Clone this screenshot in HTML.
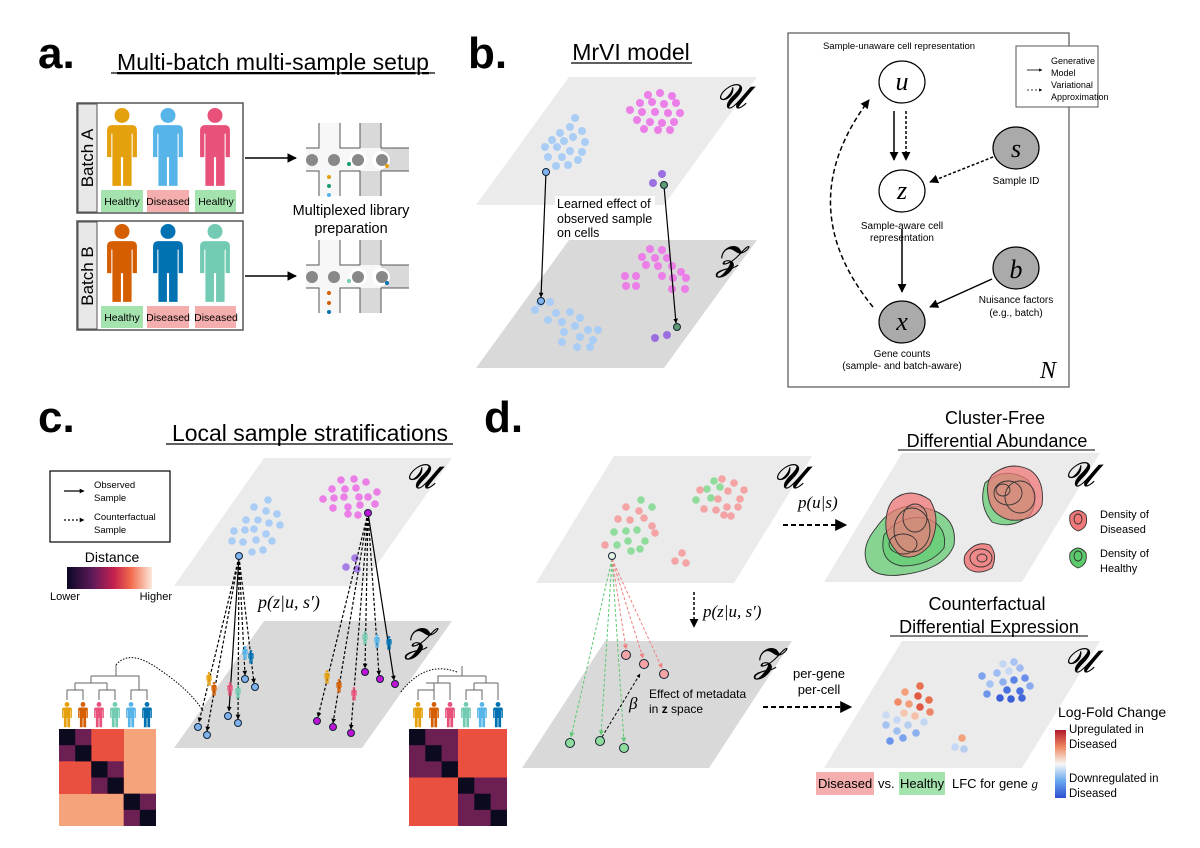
<!DOCTYPE html>
<html><head><meta charset="utf-8"><style>
html,body{margin:0;padding:0;background:#fff;}
svg{display:block;font-family:"Liberation Sans",sans-serif;}
.serif{font-family:"Liberation Serif",serif;font-style:italic;}
</style></head><body>
<svg width="1200" height="848" viewBox="0 0 1200 848" xmlns="http://www.w3.org/2000/svg">
<defs>
<marker id="ah" viewBox="0 0 10 10" refX="9" refY="5" markerWidth="6" markerHeight="6" orient="auto-start-reverse"><path d="M0,0 L10,5 L0,10 z" fill="#000"/></marker>
<marker id="ahs" viewBox="0 0 10 10" refX="9" refY="5" markerWidth="4" markerHeight="4" orient="auto"><path d="M0,0 L10,5 L0,10 z" fill="#000"/></marker>
<marker id="ahg" viewBox="0 0 10 10" refX="9" refY="5" markerWidth="5" markerHeight="5" orient="auto"><path d="M0,0 L10,5 L0,10 z" fill="#5cc870"/></marker>
<marker id="ahr" viewBox="0 0 10 10" refX="9" refY="5" markerWidth="5" markerHeight="5" orient="auto"><path d="M0,0 L10,5 L0,10 z" fill="#f08080"/></marker>
<symbol id="p" viewBox="0 0 30 75"><circle cx="15" cy="7" r="7"/><path d="M6 16 h18 q5 0 5 5 v25 h-4 v-22 h-1 v49 h-8 v-27 h-2 v27 h-8 v-49 h-1 v22 h-4 v-25 q0-5 5-5 z"/></symbol>
<linearGradient id="dist" x1="0" x2="1"><stop offset="0" stop-color="#0b0724"/><stop offset="0.3" stop-color="#5e1a5a"/><stop offset="0.55" stop-color="#c4204f"/><stop offset="0.75" stop-color="#f26a4b"/><stop offset="1" stop-color="#fbe9dc"/></linearGradient>
<linearGradient id="lfc" x1="0" y1="0" x2="0" y2="1"><stop offset="0" stop-color="#b2182b"/><stop offset="0.25" stop-color="#ef8a62"/><stop offset="0.5" stop-color="#f7f7f7"/><stop offset="0.75" stop-color="#67a9f0"/><stop offset="1" stop-color="#2f4fd0"/></linearGradient>
</defs>

<!-- ============ PANEL A ============ -->
<text x="38" y="68" font-size="44" font-weight="bold">a.</text>
<text x="273" y="70" font-size="23" text-anchor="middle" text-decoration="underline">Multi-batch multi-sample setup</text>
<line x1="111" y1="73" x2="435" y2="73" stroke="#000" stroke-width="1.2"/>
<g stroke="#555" stroke-width="1.5" fill="#fff">
<rect x="77" y="103" width="166" height="110"/><rect x="77" y="221" width="166" height="109"/></g>
<rect x="78" y="104" width="19" height="108" fill="#e8e8e8" stroke="#555"/>
<rect x="78" y="222" width="19" height="107" fill="#e8e8e8" stroke="#555"/>
<text transform="translate(93,158) rotate(-90)" font-size="17" text-anchor="middle">Batch A</text>
<text transform="translate(93,276) rotate(-90)" font-size="17" text-anchor="middle">Batch B</text>
<use href="#p" x="104" y="108" width="36" height="80" style="fill:#e5a00d"/>
<use href="#p" x="150" y="108" width="36" height="80" style="fill:#56b4e9"/>
<use href="#p" x="197" y="108" width="36" height="80" style="fill:#e8517a"/>
<use href="#p" x="104" y="224" width="36" height="80" style="fill:#d55e00"/>
<use href="#p" x="150" y="224" width="36" height="80" style="fill:#0072b2"/>
<use href="#p" x="197" y="224" width="36" height="80" style="fill:#72cbb2"/>
<g font-size="10.5" text-anchor="middle">
<rect x="101" y="190" width="42" height="22" fill="#a4e3ae"/><text x="122" y="205">Healthy</text>
<rect x="147" y="190" width="42" height="22" fill="#f5aeae"/><text x="168" y="205">Diseased</text>
<rect x="195" y="190" width="41" height="22" fill="#a4e3ae"/><text x="216" y="205">Healthy</text>
<rect x="101" y="306" width="42" height="22" fill="#a4e3ae"/><text x="122" y="321">Healthy</text>
<rect x="147" y="306" width="42" height="22" fill="#f5aeae"/><text x="168" y="321">Diseased</text>
<rect x="195" y="306" width="41" height="22" fill="#f5aeae"/><text x="216" y="321">Diseased</text>
</g>
<line x1="245" y1="158" x2="296" y2="158" stroke="#000" stroke-width="1.6" marker-end="url(#ah)"/>
<line x1="245" y1="276" x2="296" y2="276" stroke="#000" stroke-width="1.6" marker-end="url(#ah)"/>
<!-- microfluidics -->
<g id="mf">
<rect x="319" y="123" width="21" height="73" fill="#f7f7f7"/>
<rect x="360" y="123" width="21" height="73" fill="#d9d9d9"/>
<rect x="306" y="148" width="103" height="23" fill="#f7f7f7"/>
<rect x="381" y="148" width="28" height="23" fill="#d9d9d9"/>
<circle cx="381" cy="160" r="9" fill="#fff"/><circle cx="358" cy="160" r="9" fill="#fff"/>
<g stroke="#555" stroke-width="1" fill="none">
<path d="M319 123 V148 H306 M340 123 V148 H360 V123 M381 123 V148 H409 M306 171 H319 V196 M340 196 V171 H360 V196 M381 196 V171 H409"/></g>
<g fill="#888"><circle cx="312" cy="160" r="6"/><circle cx="334" cy="160" r="6"/><circle cx="358" cy="160" r="6"/><circle cx="382" cy="160" r="6"/></g>
</g>
<circle cx="349" cy="164" r="2" fill="#1a9a70"/><circle cx="387" cy="166" r="2" fill="#e5a00d"/>
<circle cx="329" cy="177" r="2" fill="#e5a00d"/><circle cx="329" cy="186" r="2" fill="#1a9a70"/><circle cx="329" cy="195" r="2" fill="#56b4e9"/>
<use href="#mf" y="117"/>
<circle cx="349" cy="281" r="2" fill="#72cbb2"/><circle cx="387" cy="283" r="2" fill="#0072b2"/>
<circle cx="329" cy="293" r="2" fill="#d55e00"/><circle cx="329" cy="303" r="2" fill="#d55e00"/><circle cx="329" cy="312" r="2" fill="#0072b2"/>
<text x="351" y="215" font-size="14.5" text-anchor="middle">Multiplexed library</text>
<text x="351" y="233" font-size="14.5" text-anchor="middle">preparation</text>

<!-- ============ PANEL B ============ -->
<text x="468" y="68" font-size="44" font-weight="bold">b.</text>
<text x="631" y="60" font-size="23" text-anchor="middle">MrVI model</text>
<line x1="571" y1="63" x2="692" y2="63" stroke="#000" stroke-width="1.2"/>
<polygon points="569,77 757,77 664,205 476,205" fill="#ebebeb"/>
<polygon points="569,240 757,240 664,368 476,368" fill="#d9d9d9"/>
<text x="716" y="108" font-size="34" class="serif">𝓤</text>
<text x="716" y="270" font-size="34" class="serif">𝓩</text>
<g fill="#a9cdf5">
<circle cx="575" cy="118" r="4"/><circle cx="570" cy="127" r="4"/><circle cx="582" cy="131" r="4"/><circle cx="560" cy="133" r="4"/><circle cx="573" cy="137" r="4"/><circle cx="552" cy="140" r="4"/><circle cx="564" cy="141" r="4"/><circle cx="585" cy="142" r="4"/><circle cx="545" cy="147" r="4"/><circle cx="557" cy="147" r="4"/><circle cx="570" cy="151" r="4"/><circle cx="582" cy="152" r="4"/><circle cx="548" cy="157" r="4"/><circle cx="562" cy="157" r="4"/><circle cx="578" cy="160" r="4"/><circle cx="556" cy="166" r="4"/><circle cx="568" cy="165" r="4"/>
<circle cx="540" cy="303" r="4"/><circle cx="550" cy="302" r="4"/><circle cx="556" cy="313" r="4"/><circle cx="570" cy="312" r="4"/><circle cx="580" cy="318" r="4"/><circle cx="548" cy="320" r="4"/><circle cx="562" cy="322" r="4"/><circle cx="575" cy="326" r="4"/><circle cx="588" cy="330" r="4"/><circle cx="598" cy="330" r="4"/><circle cx="564" cy="332" r="4"/><circle cx="580" cy="337" r="4"/><circle cx="593" cy="340" r="4"/><circle cx="562" cy="342" r="4"/><circle cx="577" cy="347" r="4"/><circle cx="590" cy="347" r="4"/><circle cx="535" cy="310" r="4"/>
</g>
<g fill="#ec7ee8">
<circle cx="648" cy="95" r="4"/><circle cx="660" cy="93" r="4"/><circle cx="672" cy="96" r="4"/><circle cx="640" cy="103" r="4"/><circle cx="652" cy="102" r="4"/><circle cx="664" cy="104" r="4"/><circle cx="676" cy="103" r="4"/><circle cx="630" cy="110" r="4"/><circle cx="642" cy="112" r="4"/><circle cx="655" cy="112" r="4"/><circle cx="668" cy="113" r="4"/><circle cx="680" cy="113" r="4"/><circle cx="637" cy="120" r="4"/><circle cx="650" cy="122" r="4"/><circle cx="662" cy="123" r="4"/><circle cx="674" cy="122" r="4"/><circle cx="644" cy="129" r="4"/><circle cx="658" cy="130" r="4"/><circle cx="670" cy="130" r="4"/>
<circle cx="650" cy="249" r="4"/><circle cx="662" cy="250" r="4"/><circle cx="642" cy="257" r="4"/><circle cx="655" cy="258" r="4"/><circle cx="667" cy="258" r="4"/><circle cx="646" cy="265" r="4"/><circle cx="658" cy="266" r="4"/><circle cx="672" cy="266" r="4"/><circle cx="681" cy="272" r="4"/><circle cx="625" cy="276" r="4"/><circle cx="636" cy="276" r="4"/><circle cx="662" cy="276" r="4"/><circle cx="673" cy="278" r="4"/><circle cx="686" cy="278" r="4"/><circle cx="626" cy="286" r="4"/><circle cx="636" cy="286" r="4"/><circle cx="672" cy="289" r="4"/><circle cx="685" cy="289" r="4"/>
</g>
<g fill="#9b6fe0"><circle cx="662" cy="174" r="4"/><circle cx="653" cy="183" r="4"/><circle cx="655" cy="338" r="4"/><circle cx="667" cy="335" r="4"/></g>
<rect x="555" y="196" width="100" height="44" fill="#fff"/>
<g font-size="12.5"><text x="557" y="208">Learned effect of</text><text x="557" y="223">observed sample</text><text x="557" y="237">on cells</text></g>
<line x1="546" y1="172" x2="541" y2="297" stroke="#000" stroke-width="1.2" marker-end="url(#ahs)"/>
<line x1="664" y1="186" x2="676" y2="323" stroke="#000" stroke-width="1.2" marker-end="url(#ahs)"/>
<circle cx="546" cy="172" r="3.5" fill="#7fb3ee" stroke="#123" stroke-width="1"/>
<circle cx="541" cy="301" r="3.5" fill="#7fb3ee" stroke="#123" stroke-width="1"/>
<circle cx="664" cy="185" r="3.5" fill="#5f9a74" stroke="#123" stroke-width="1"/>
<circle cx="677" cy="327" r="3.5" fill="#5f9a74" stroke="#123" stroke-width="1"/>
<!-- graphical model -->
<rect x="788" y="33" width="281" height="354" fill="#fff" stroke="#555" stroke-width="1.2"/>
<text x="899" y="49" font-size="9.5" text-anchor="middle">Sample-unaware cell representation</text>
<rect x="1016" y="46" width="82" height="61" fill="#fff" stroke="#555"/>
<line x1="1027" y1="70" x2="1042" y2="70" stroke="#000" stroke-width="0.8" marker-end="url(#ahs)"/>
<line x1="1027" y1="90" x2="1042" y2="90" stroke="#000" stroke-width="0.8" stroke-dasharray="2,2" marker-end="url(#ahs)"/>
<g font-size="9"><text x="1051" y="64">Generative</text><text x="1051" y="76">Model</text><text x="1051" y="88">Variational</text><text x="1051" y="100">Approximation</text></g>
<g stroke="#000" stroke-width="1.2">
<ellipse cx="902" cy="82" rx="23" ry="21" fill="#fff"/>
<ellipse cx="902" cy="191" rx="23" ry="21" fill="#fff"/>
<ellipse cx="902" cy="322" rx="23" ry="21" fill="#aaa"/>
<ellipse cx="1016" cy="148" rx="23" ry="21" fill="#aaa"/>
<ellipse cx="1016" cy="268" rx="23" ry="21" fill="#aaa"/>
</g>
<g font-size="26" class="serif" text-anchor="middle"><text x="902" y="90">u</text><text x="902" y="199">z</text><text x="902" y="330">x</text><text x="1016" y="157">s</text><text x="1016" y="278">b</text></g>
<g font-size="10" text-anchor="middle"><text x="1016" y="184">Sample ID</text><text x="902" y="229">Sample-aware cell</text><text x="902" y="241">representation</text><text x="1016" y="303">Nuisance factors</text><text x="1016" y="316">(e.g., batch)</text><text x="902" y="357">Gene counts</text><text x="902" y="369">(sample- and batch-aware)</text></g>
<text x="1040" y="378" font-size="24" class="serif">N</text>
<g stroke="#000" stroke-width="1.5" fill="none">
<line x1="894" y1="111" x2="894" y2="160" marker-end="url(#ah)"/>
<line x1="906" y1="111" x2="906" y2="160" stroke-dasharray="3,2" marker-end="url(#ah)"/>
<line x1="902" y1="229" x2="902" y2="292" marker-end="url(#ah)"/>
<line x1="993" y1="157" x2="930" y2="182" stroke-dasharray="3,2" marker-end="url(#ah)"/>
<line x1="992" y1="279" x2="930" y2="307" marker-end="url(#ah)"/>
<path d="M873 307 Q790 205 869 100" stroke-dasharray="5,3" marker-end="url(#ah)"/>
</g>

<!-- ============ PANEL C ============ -->
<text x="38" y="432" font-size="44" font-weight="bold">c.</text>
<text x="310" y="441" font-size="23" text-anchor="middle">Local sample stratifications</text>
<line x1="166" y1="444" x2="453" y2="444" stroke="#000" stroke-width="1.2"/>
<rect x="50" y="471" width="120" height="71" fill="#fff" stroke="#000" stroke-width="1.2"/>
<line x1="64" y1="491" x2="84" y2="491" stroke="#000" stroke-width="1.2" marker-end="url(#ahs)"/>
<line x1="64" y1="520" x2="84" y2="520" stroke="#000" stroke-width="1.2" stroke-dasharray="2,2" marker-end="url(#ahs)"/>
<g font-size="9.5"><text x="94" y="488">Observed</text><text x="94" y="501">Sample</text><text x="94" y="520">Counterfactual</text><text x="94" y="533">Sample</text></g>
<text x="112" y="562" font-size="14" text-anchor="middle">Distance</text>
<rect x="67" y="567" width="85" height="22" fill="url(#dist)"/>
<text x="50" y="600" font-size="11">Lower</text><text x="172" y="600" font-size="11" text-anchor="end">Higher</text>
<polygon points="264,458 452,458 362,586 174,586" fill="#ebebeb"/>
<polygon points="264,621 452,621 362,748 174,748" fill="#d9d9d9"/>
<text x="405" y="488" font-size="34" class="serif">𝓤</text>
<text x="405" y="652" font-size="34" class="serif">𝓩</text>
<g fill="#a9cdf5">
<circle cx="268" cy="500" r="3.8"/><circle cx="254" cy="507" r="3.8"/><circle cx="266" cy="511" r="3.8"/><circle cx="277" cy="514" r="3.8"/><circle cx="246" cy="520" r="3.8"/><circle cx="258" cy="520" r="3.8"/><circle cx="269" cy="523" r="3.8"/><circle cx="280" cy="525" r="3.8"/><circle cx="234" cy="531" r="3.8"/><circle cx="245" cy="530" r="3.8"/><circle cx="254" cy="529" r="3.8"/><circle cx="266" cy="534" r="3.8"/><circle cx="232" cy="541" r="3.8"/><circle cx="243" cy="542" r="3.8"/><circle cx="256" cy="540" r="3.8"/><circle cx="272" cy="541" r="3.8"/><circle cx="252" cy="552" r="3.8"/><circle cx="263" cy="550" r="3.8"/>
</g>
<g fill="#ec7ee8">
<circle cx="341" cy="480" r="3.8"/><circle cx="354" cy="479" r="3.8"/><circle cx="366" cy="482" r="3.8"/><circle cx="332" cy="489" r="3.8"/><circle cx="345" cy="489" r="3.8"/><circle cx="356" cy="488" r="3.8"/><circle cx="377" cy="492" r="3.8"/><circle cx="323" cy="499" r="3.8"/><circle cx="334" cy="498" r="3.8"/><circle cx="344" cy="497" r="3.8"/><circle cx="359" cy="497" r="3.8"/><circle cx="368" cy="497" r="3.8"/><circle cx="333" cy="508" r="3.8"/><circle cx="348" cy="507" r="3.8"/><circle cx="360" cy="505" r="3.8"/><circle cx="375" cy="504" r="3.8"/><circle cx="348" cy="514" r="3.8"/><circle cx="358" cy="515" r="3.8"/>
</g>
<g fill="#a77de8"><circle cx="355" cy="558" r="3.8"/><circle cx="346" cy="567" r="3.8"/><circle cx="357" cy="569" r="3.8"/></g>
<text x="258" y="608" font-size="18" class="serif">p(z|u, s′)</text>
<g stroke="#000" stroke-width="1.2" fill="none" stroke-dasharray="3,2">
<line x1="239" y1="557" x2="199" y2="722" marker-end="url(#ahs)"/>
<line x1="239" y1="557" x2="207" y2="731" marker-end="url(#ahs)"/>
<line x1="239" y1="557" x2="238" y2="719" marker-end="url(#ahs)"/>
<line x1="239" y1="557" x2="245" y2="675" marker-end="url(#ahs)"/>
<line x1="239" y1="557" x2="254" y2="683" marker-end="url(#ahs)"/>
<line x1="239" y1="557" x2="229" y2="711" stroke-dasharray="none" marker-end="url(#ahs)"/>
<line x1="368" y1="513" x2="318" y2="717" marker-end="url(#ahs)"/>
<line x1="368" y1="513" x2="333" y2="723" marker-end="url(#ahs)"/>
<line x1="368" y1="513" x2="351" y2="729" marker-end="url(#ahs)"/>
<line x1="368" y1="513" x2="365" y2="668" marker-end="url(#ahs)"/>
<line x1="368" y1="513" x2="379" y2="675" marker-end="url(#ahs)"/>
<line x1="368" y1="513" x2="394" y2="680" stroke-dasharray="none" marker-end="url(#ahs)"/>
</g>
<g stroke="#123" stroke-width="1" fill="#7fb3ee">
<circle cx="239" cy="556" r="3.5"/><circle cx="198" cy="727" r="3.5"/><circle cx="207" cy="735" r="3.5"/><circle cx="228" cy="716" r="3.5"/><circle cx="238" cy="723" r="3.5"/><circle cx="245" cy="679" r="3.5"/><circle cx="255" cy="687" r="3.5"/></g>
<g stroke="#123" stroke-width="1" fill="#c013d8">
<circle cx="368" cy="513" r="3.5"/><circle cx="317" cy="721" r="3.5"/><circle cx="333" cy="727" r="3.5"/><circle cx="351" cy="733" r="3.5"/><circle cx="365" cy="672" r="3.5"/><circle cx="380" cy="679" r="3.5"/><circle cx="395" cy="684" r="3.5"/></g>
<use href="#p" x="206" y="672" width="6" height="14" style="fill:#e5a00d"/>
<use href="#p" x="211" y="682" width="6" height="14" style="fill:#d55e00"/>
<use href="#p" x="227" y="682" width="6" height="14" style="fill:#e8517a"/>
<use href="#p" x="235" y="685" width="6" height="14" style="fill:#72cbb2"/>
<use href="#p" x="242" y="646" width="6" height="14" style="fill:#56b4e9"/>
<use href="#p" x="248" y="650" width="6" height="14" style="fill:#0072b2"/>
<use href="#p" x="324" y="670" width="6" height="14" style="fill:#e5a00d"/>
<use href="#p" x="336" y="679" width="6" height="14" style="fill:#d55e00"/>
<use href="#p" x="351" y="687" width="6" height="14" style="fill:#e8517a"/>
<use href="#p" x="362" y="631" width="6" height="14" style="fill:#72cbb2"/>
<use href="#p" x="374" y="634" width="6" height="14" style="fill:#56b4e9"/>
<use href="#p" x="386" y="636" width="6" height="14" style="fill:#0072b2"/>
<!-- left dendrogram + heatmap -->
<g stroke="#666" stroke-width="1" fill="none">
<path d="M67 700 V690 H83 V700 M75 690 V683 M99 700 V690 H115 V700 M107 690 V683 M131 700 V690 H147 V700 M139 690 V680 M75 683 H107 M91 683 V676 M91 676 H139 V680 M116 676 V665"/>
<path d="M418 700 V690 H434 V700 M434 690 V683 M426 683 H450 V700 M466 700 V690 H482 V700 M474 690 V683 M498 700 V683 M474 683 H498 M486 683 V676 M438 683 V676 H486 M462 676 V666"/>
</g>
<path d="M116 665 Q130 648 160 670 Q190 690 203 711" stroke="#000" stroke-width="1" fill="none" stroke-dasharray="1.5,1.5"/>
<path d="M457 672 Q425 660 400 693" stroke="#000" stroke-width="1" fill="none" stroke-dasharray="1.5,1.5"/>
<use href="#p" x="61" y="702" width="12" height="26" style="fill:#e5a00d"/>
<use href="#p" x="77" y="702" width="12" height="26" style="fill:#d55e00"/>
<use href="#p" x="93" y="702" width="12" height="26" style="fill:#e8517a"/>
<use href="#p" x="109" y="702" width="12" height="26" style="fill:#72cbb2"/>
<use href="#p" x="125" y="702" width="12" height="26" style="fill:#56b4e9"/>
<use href="#p" x="141" y="702" width="12" height="26" style="fill:#0072b2"/>
<use href="#p" x="412" y="702" width="12" height="26" style="fill:#e5a00d"/>
<use href="#p" x="428" y="702" width="12" height="26" style="fill:#d55e00"/>
<use href="#p" x="444" y="702" width="12" height="26" style="fill:#e8517a"/>
<use href="#p" x="460" y="702" width="12" height="26" style="fill:#72cbb2"/>
<use href="#p" x="476" y="702" width="12" height="26" style="fill:#56b4e9"/>
<use href="#p" x="492" y="702" width="12" height="26" style="fill:#0072b2"/>
<rect x="59" y="729" width="97" height="97" fill="#f5a37a"/>
<rect x="59" y="729" width="65" height="65" fill="#ea5040"/>
<g fill="#6b1f52"><rect x="59" y="729" width="32.3" height="32.3"/><rect x="91.3" y="761.3" width="32.3" height="32.3"/><rect x="123.7" y="793.7" width="32.3" height="32.3"/></g>
<g fill="#0b0a1e"><rect x="59" y="729" width="16.2" height="16.2"/><rect x="75.2" y="745.2" width="16.2" height="16.2"/><rect x="91.3" y="761.3" width="16.2" height="16.2"/><rect x="107.5" y="777.5" width="16.2" height="16.2"/><rect x="123.7" y="793.7" width="16.2" height="16.2"/><rect x="139.8" y="809.8" width="16.2" height="16.2"/></g>
<rect x="409" y="729" width="98" height="97" fill="#ea5040"/>
<g fill="#6b1f52"><rect x="409" y="729" width="49" height="48.5"/><rect x="458" y="777.5" width="49" height="48.5"/></g>
<g fill="#0b0a1e"><rect x="409" y="729" width="16.3" height="16.2"/><rect x="425.3" y="745.2" width="16.3" height="16.2"/><rect x="441.6" y="761.3" width="16.3" height="16.2"/><rect x="458" y="777.5" width="16.3" height="16.2"/><rect x="474.3" y="793.7" width="16.3" height="16.2"/><rect x="490.6" y="809.8" width="16.3" height="16.2"/></g>

<!-- ============ PANEL D ============ -->
<text x="484" y="432" font-size="44" font-weight="bold">d.</text>
<polygon points="614,456 812,456 734,583 536,583" fill="#ebebeb"/>
<polygon points="605,641 792,641 709,768 522,768" fill="#d9d9d9"/>
<text x="773" y="488" font-size="34" class="serif">𝓤</text>
<text x="754" y="672" font-size="34" class="serif">𝓩</text>
<g fill="#8fdc9c">
<circle cx="641" cy="500" r="3.8"/><circle cx="652" cy="507" r="3.8"/><circle cx="626" cy="531" r="3.8"/><circle cx="637" cy="530" r="3.8"/><circle cx="614" cy="532" r="3.8"/><circle cx="628" cy="541" r="3.8"/><circle cx="645" cy="541" r="3.8"/><circle cx="617" cy="545" r="3.8"/><circle cx="631" cy="551" r="3.8"/><circle cx="640" cy="549" r="3.8"/>
<circle cx="714" cy="481" r="3.8"/><circle cx="696" cy="500" r="3.8"/><circle cx="711" cy="498" r="3.8"/><circle cx="707" cy="489" r="3.8"/><circle cx="720" cy="487" r="3.8"/></g>
<g fill="#f4a4a4">
<circle cx="626" cy="507" r="3.8"/><circle cx="639" cy="511" r="3.8"/><circle cx="618" cy="519" r="3.8"/><circle cx="630" cy="520" r="3.8"/><circle cx="644" cy="518" r="3.8"/><circle cx="652" cy="526" r="3.8"/><circle cx="605" cy="545" r="3.8"/><circle cx="655" cy="533" r="3.8"/>
<circle cx="722" cy="479" r="3.8"/><circle cx="734" cy="483" r="3.8"/><circle cx="700" cy="490" r="3.8"/><circle cx="728" cy="491" r="3.8"/><circle cx="744" cy="490" r="3.8"/><circle cx="718" cy="499" r="3.8"/><circle cx="740" cy="499" r="3.8"/><circle cx="704" cy="509" r="3.8"/><circle cx="716" cy="510" r="3.8"/><circle cx="727" cy="507" r="3.8"/><circle cx="738" cy="507" r="3.8"/><circle cx="724" cy="515" r="3.8"/><circle cx="731" cy="516" r="3.8"/>
<circle cx="682" cy="553" r="3.8"/><circle cx="675" cy="561" r="3.8"/><circle cx="686" cy="563" r="3.8"/></g>
<g fill="none" stroke-width="1" stroke-dasharray="3,2">
<line x1="612" y1="559" x2="571" y2="737" stroke="#5cc870" marker-end="url(#ahg)"/>
<line x1="612" y1="559" x2="601" y2="735" stroke="#5cc870" marker-end="url(#ahg)"/>
<line x1="612" y1="559" x2="624" y2="742" stroke="#5cc870" marker-end="url(#ahg)"/>
<line x1="612" y1="559" x2="626" y2="649" stroke="#f08080" marker-end="url(#ahr)"/>
<line x1="612" y1="559" x2="643" y2="658" stroke="#f08080" marker-end="url(#ahr)"/>
<line x1="612" y1="559" x2="662" y2="668" stroke="#f08080" marker-end="url(#ahr)"/>
<line x1="602" y1="737" x2="640" y2="674" stroke="#000" marker-end="url(#ahs)"/>
</g>
<circle cx="612" cy="556" r="3.5" fill="#e4f2e4" stroke="#123"/>
<g stroke="#123" stroke-width="1" fill="#8fdc9c"><circle cx="570" cy="743" r="4.5"/><circle cx="600" cy="741" r="4.5"/><circle cx="624" cy="748" r="4.5"/></g>
<g stroke="#123" stroke-width="1" fill="#f4a4a4"><circle cx="626" cy="655" r="4.5"/><circle cx="644" cy="664" r="4.5"/><circle cx="664" cy="674" r="4.5"/></g>
<text x="629" y="709" font-size="17" class="serif">β</text>
<g font-size="12"><text x="649" y="698">Effect of metadata</text><text x="649" y="713">in <tspan font-weight="bold">z</tspan> space</text></g>
<line x1="694" y1="592" x2="694" y2="627" stroke="#000" stroke-width="1.5" stroke-dasharray="3,2" marker-end="url(#ah)"/>
<text x="703" y="617" font-size="17" class="serif">p(z|u, s′)</text>
<text x="798" y="508" font-size="17" class="serif">p(u|s)</text>
<line x1="783" y1="525" x2="846" y2="525" stroke="#000" stroke-width="2" stroke-dasharray="5,3" marker-end="url(#ah)"/>
<text x="819" y="678" font-size="13" text-anchor="middle">per-gene</text>
<text x="819" y="694" font-size="13" text-anchor="middle">per-cell</text>
<line x1="763" y1="707" x2="851" y2="707" stroke="#000" stroke-width="2" stroke-dasharray="5,3" marker-end="url(#ah)"/>
<!-- DA -->
<text x="995" y="424" font-size="18" text-anchor="middle">Cluster-Free</text>
<text x="997" y="447" font-size="18" text-anchor="middle">Differential Abundance</text>
<line x1="898" y1="450" x2="1095" y2="450" stroke="#000" stroke-width="1"/>
<polygon points="902,453 1100,453 1022,582 824,582" fill="#ebebeb"/>
<text x="1064" y="486" font-size="34" class="serif">𝓤</text>
<g stroke="#333" stroke-width="0.9">
<path d="M876 528 Q895 500 925 508 Q958 515 954 545 Q945 570 900 575 Q870 578 866 560 Q862 545 876 528z" fill="#5ccb6c" fill-opacity="0.7"/>
<path d="M884 535 Q900 515 925 518 Q948 525 944 548 Q930 566 902 566 Q878 562 884 535z" fill="#5ccb6c" fill-opacity="0.6"/>
<path d="M893 500 Q910 486 930 500 Q942 520 930 545 Q915 562 900 555 Q884 540 886 520 Q887 507 893 500z" fill="#f07878" fill-opacity="0.75"/>
<ellipse cx="912" cy="530" rx="18" ry="22" fill="none"/><ellipse cx="915" cy="518" rx="12" ry="14" fill="none"/><ellipse cx="903" cy="544" rx="14" ry="10" fill="none"/>
<path d="M985 483 Q1005 465 1028 480 Q1040 500 1030 515 Q1012 530 992 522 Q978 505 985 483z" fill="#5ccb6c" fill-opacity="0.7"/>
<path d="M992 475 Q1010 460 1030 470 Q1045 480 1042 505 Q1035 522 1010 520 Q990 515 988 495 Q986 482 992 475z" fill="#f07878" fill-opacity="0.75"/>
<ellipse cx="1008" cy="493" rx="14" ry="12" fill="none"/><ellipse cx="1020" cy="497" rx="15" ry="16" fill="none"/><ellipse cx="1003" cy="490" rx="7" ry="6" fill="none"/>
<path d="M965 555 Q975 540 990 545 Q998 555 992 568 Q980 575 970 570 Q962 565 965 555z" fill="#f07878" fill-opacity="0.85"/>
<ellipse cx="981" cy="558" rx="11" ry="9" fill="none"/><ellipse cx="982" cy="558" rx="5" ry="4" fill="none"/>
<path d="M1070 515 Q1078 506 1086 515 Q1089 528 1078 531 Q1068 527 1070 515z" fill="#f07878"/>
<ellipse cx="1078" cy="519" rx="4" ry="5" fill="none"/>
<path d="M1070 553 Q1078 543 1086 553 Q1088 565 1078 568 Q1068 564 1070 553z" fill="#5ccb6c"/>
<ellipse cx="1078" cy="556" rx="4" ry="5" fill="none"/>
</g>
<g font-size="11"><text x="1100" y="518">Density of</text><text x="1100" y="533">Diseased</text><text x="1100" y="557">Density of</text><text x="1100" y="572">Healthy</text></g>
<!-- CDE -->
<text x="987" y="610" font-size="18" text-anchor="middle">Counterfactual</text>
<text x="989" y="633" font-size="18" text-anchor="middle">Differential Expression</text>
<line x1="890" y1="636" x2="1088" y2="636" stroke="#000" stroke-width="1"/>
<polygon points="902,641 1100,641 1022,768 824,768" fill="#ebebeb"/>
<text x="1064" y="672" font-size="34" class="serif">𝓤</text>
<g>
<circle cx="920" cy="686" r="3.8" fill="#e8704e"/><circle cx="905" cy="692" r="3.8" fill="#f39f7a"/><circle cx="918" cy="696" r="3.8" fill="#e05a44"/><circle cx="929" cy="700" r="3.8" fill="#e8704e"/><circle cx="898" cy="702" r="3.8" fill="#f28a66"/><circle cx="909" cy="704" r="3.8" fill="#f39f7a"/><circle cx="920" cy="707" r="3.8" fill="#e05a44"/><circle cx="930" cy="712" r="3.8" fill="#ec8466"/><circle cx="904" cy="713" r="3.8" fill="#f6c8b0"/><circle cx="915" cy="716" r="3.8" fill="#f6c0a8"/><circle cx="886" cy="715" r="3.8" fill="#cbdaf4"/><circle cx="897" cy="720" r="3.8" fill="#c7d8f6"/><circle cx="886" cy="725" r="3.8" fill="#a6c4f2"/><circle cx="908" cy="725" r="3.8" fill="#b5cef2"/><circle cx="924" cy="722" r="3.8" fill="#c4d6f4"/><circle cx="897" cy="731" r="3.8" fill="#9ebff0"/><circle cx="916" cy="733" r="3.8" fill="#8bb0ee"/><circle cx="890" cy="741" r="3.8" fill="#6a95ec"/><circle cx="903" cy="738" r="3.8" fill="#7ba2ee"/>
<circle cx="1003" cy="664" r="3.8" fill="#c4d6f4"/><circle cx="1014" cy="662" r="3.8" fill="#a9c4f4"/><circle cx="997" cy="673" r="3.8" fill="#9ebdf4"/><circle cx="1009" cy="671" r="3.8" fill="#c7d8f6"/><circle cx="1020" cy="668" r="3.8" fill="#a0bcf0"/><circle cx="982" cy="676" r="3.8" fill="#7ea4ee"/><circle cx="990" cy="684" r="3.8" fill="#a6c4f2"/><circle cx="1003" cy="682" r="3.8" fill="#8fb1ee"/><circle cx="1014" cy="680" r="3.8" fill="#5b82e6"/><circle cx="1025" cy="678" r="3.8" fill="#6a8eea"/><circle cx="1030" cy="686" r="3.8" fill="#8aabee"/><circle cx="1007" cy="690" r="3.8" fill="#4a72e0"/><circle cx="1020" cy="691" r="3.8" fill="#4a70e0"/><circle cx="987" cy="694" r="3.8" fill="#6e95ea"/><circle cx="1000" cy="698" r="3.8" fill="#3a5fd8"/><circle cx="1011" cy="699" r="3.8" fill="#3a5ed6"/><circle cx="1022" cy="698" r="3.8" fill="#4566da"/>
<circle cx="962" cy="738" r="3.8" fill="#f3a27e"/><circle cx="955" cy="747" r="3.8" fill="#c7d8f6"/><circle cx="964" cy="749" r="3.8" fill="#b8cdf2"/>
</g>
<rect x="816" y="772" width="58" height="23" fill="#f5aeae"/>
<rect x="899" y="772" width="46" height="23" fill="#a4e3ae"/>
<g font-size="13"><text x="818" y="788">Diseased</text><text x="878" y="788">vs.</text><text x="900" y="788">Healthy</text><text x="952" y="788">LFC for gene <tspan class="serif">g</tspan></text></g>
<text x="1058" y="717" font-size="14">Log-Fold Change</text>
<rect x="1055" y="730" width="11" height="68" fill="url(#lfc)"/>
<g font-size="11.5"><text x="1069" y="733">Upregulated in</text><text x="1069" y="748">Diseased</text><text x="1069" y="782">Downregulated in</text><text x="1069" y="797">Diseased</text></g>
</svg>
</body></html>
